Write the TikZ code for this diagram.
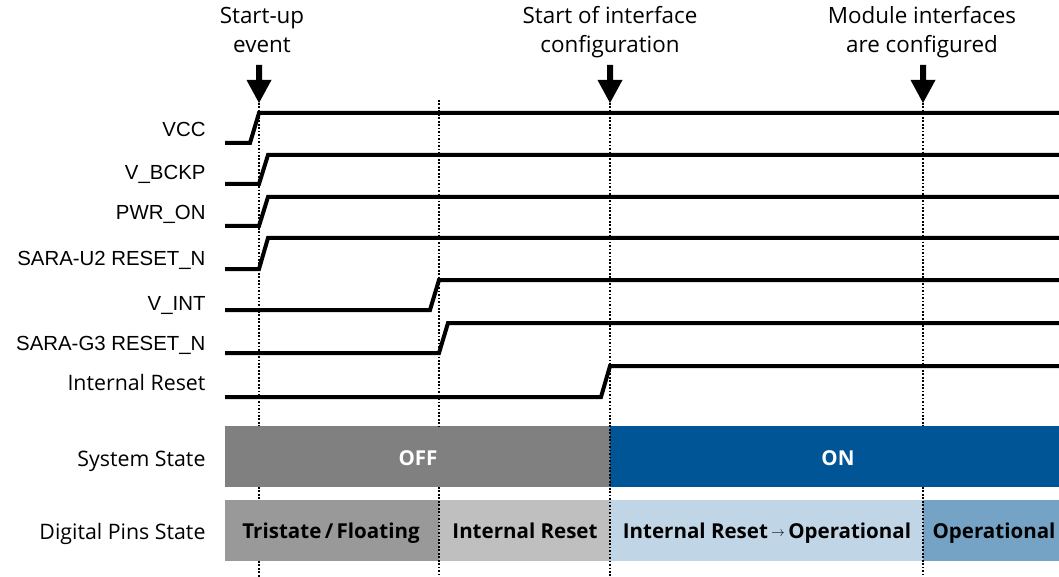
\documentclass[tikz,border=0pt]{standalone}
\usepackage{fontspec}
\setmainfont{Open Sans}
\newfontfamily\pinfont{Liberation Sans}

\definecolor{offgray}{RGB}{128,128,128}
\definecolor{onblue}{RGB}{0,85,150}
\definecolor{trigray}{RGB}{153,153,153}
\definecolor{rstgray}{RGB}{191,191,191}
\definecolor{paleblue}{RGB}{192,213,230}
\definecolor{opblue}{RGB}{117,163,198}

\tikzset{every picture/.style={line width=0.75pt}}
\tikzset{
  signal/.style={line width=3pt},
  marker/.style={line width=0.8pt, dash pattern=on 1.3pt off 1.3pt},
  pinlabel/.style={anchor=base east, inner sep=0.75pt, font=\pinfont\fontsize{15.3}{18}\selectfont},
  rowlabel/.style={anchor=base east, inner sep=0.75pt, font=\fontsize{16}{19}\selectfont},
  eventlabel/.style={anchor=base, align=center, inner sep=0.75pt, font=\fontsize{16.8}{21.8}\selectfont},
  statetext/.style={anchor=base, inner sep=0.75pt, font=\fontsize{15.4}{19}\selectfont\bfseries},
}

\begin{document}
\begin{tikzpicture}[x=0.75pt,y=0.75pt,yscale=-1,xscale=1]
\path[use as bounding box] (0,0) rectangle (1059,577);

%Shapes: System State
\fill [offgray] (225,426) rectangle (610,487);
\fill [onblue] (610,426) rectangle (1059,487);
%Shapes: Digital Pins State
\fill [trigray] (225,500) rectangle (439,561);
\fill [rstgray] (439,500) rectangle (610,561);
\fill [paleblue] (610,500) rectangle (923,561);
\fill [opblue] (923,500) rectangle (1059,561);

%Straight Lines: event markers
\draw [marker] (259,103) -- (259,426) (259,487) -- (259,500) (259,561) -- (259,577);
\draw [marker] (439,100) -- (439,426) (439,487) -- (439,577);
\draw [marker] (610,103) -- (610,577);
\draw [marker] (923,103) -- (923,426) (923,487) -- (923,577);

%Straight Lines: signals
\draw [signal] (225,143) -- (250,143) -- (259,113) -- (1059,113);
\draw [signal] (225,184) -- (259,184) -- (268,155) -- (1059,155);
\draw [signal] (225,226) -- (259,226) -- (268,197) -- (1059,197);
\draw [signal] (225,269) -- (259,269) -- (268,238) -- (1059,238);
\draw [signal] (225,310) -- (430,310) -- (439,280) -- (1059,280);
\draw [signal] (225,353) -- (439,353) -- (448,323) -- (1059,323);
\draw [signal] (225,397) -- (601,397) -- (610,366) -- (1059,366);

%Down Arrows
\fill (256,65) -- (262,65) -- (262,80) -- (271.5,80) -- (259,103) -- (246.5,80) -- (256,80) -- cycle;
\fill (607,65) -- (613,65) -- (613,80) -- (622.5,80) -- (610,103) -- (597.5,80) -- (607,80) -- cycle;
\fill (920,65) -- (926,65) -- (926,80) -- (935.5,80) -- (923,103) -- (910.5,80) -- (920,80) -- cycle;

% Text Node
\draw (262,53) node [eventlabel] (startup) {Start-up\\event};
% Text Node
\draw (610,53) node [eventlabel] (ifstart) {Start of interface\\configuration};
% Text Node
\draw (922,53) node [eventlabel] (ifdone) {Module interfaces\\are configured};

% Text Node
\draw (207,136.5) node [pinlabel] (vcc) {VCC};
% Text Node
\draw (207,180) node [pinlabel] (vbckp) {V\_BCKP};
% Text Node
\draw (207,220) node [pinlabel] (pwron) {PWR\_ON};
% Text Node
\draw (207,265) node [pinlabel] (uresetn) {SARA-U2 RESET\_N};
% Text Node
\draw (207,310) node [pinlabel] (vint) {V\_INT};
% Text Node
\draw (207,350) node [pinlabel] (gresetn) {SARA-G3 RESET\_N};
% Text Node
\draw (207,390) node [rowlabel] (intreset) {Internal Reset};
% Text Node
\draw (207,466) node [rowlabel] (sysstate) {System State};
% Text Node
\draw (207,539) node [rowlabel] (pinstate) {Digital Pins State};

% Text Node
\draw (418,465) node [statetext, white] (off) {OFF};
% Text Node
\draw (838,465) node [statetext, white] (on) {ON};
% Text Node
\draw (331,538) node [statetext] (tristate) {Tristate\,/\,Floating};
% Text Node
\draw (525,538) node [statetext] (pinreset) {Internal Reset};
% Text Node
\draw (767,538) node [statetext] (pinramp) {Internal Reset\,\raisebox{1.5pt}{\scalebox{0.7}{$\rightarrow$}}\,Operational};
% Text Node
\draw (994,538) node [statetext] (pinop) {Operational};

\end{tikzpicture}
\end{document}
